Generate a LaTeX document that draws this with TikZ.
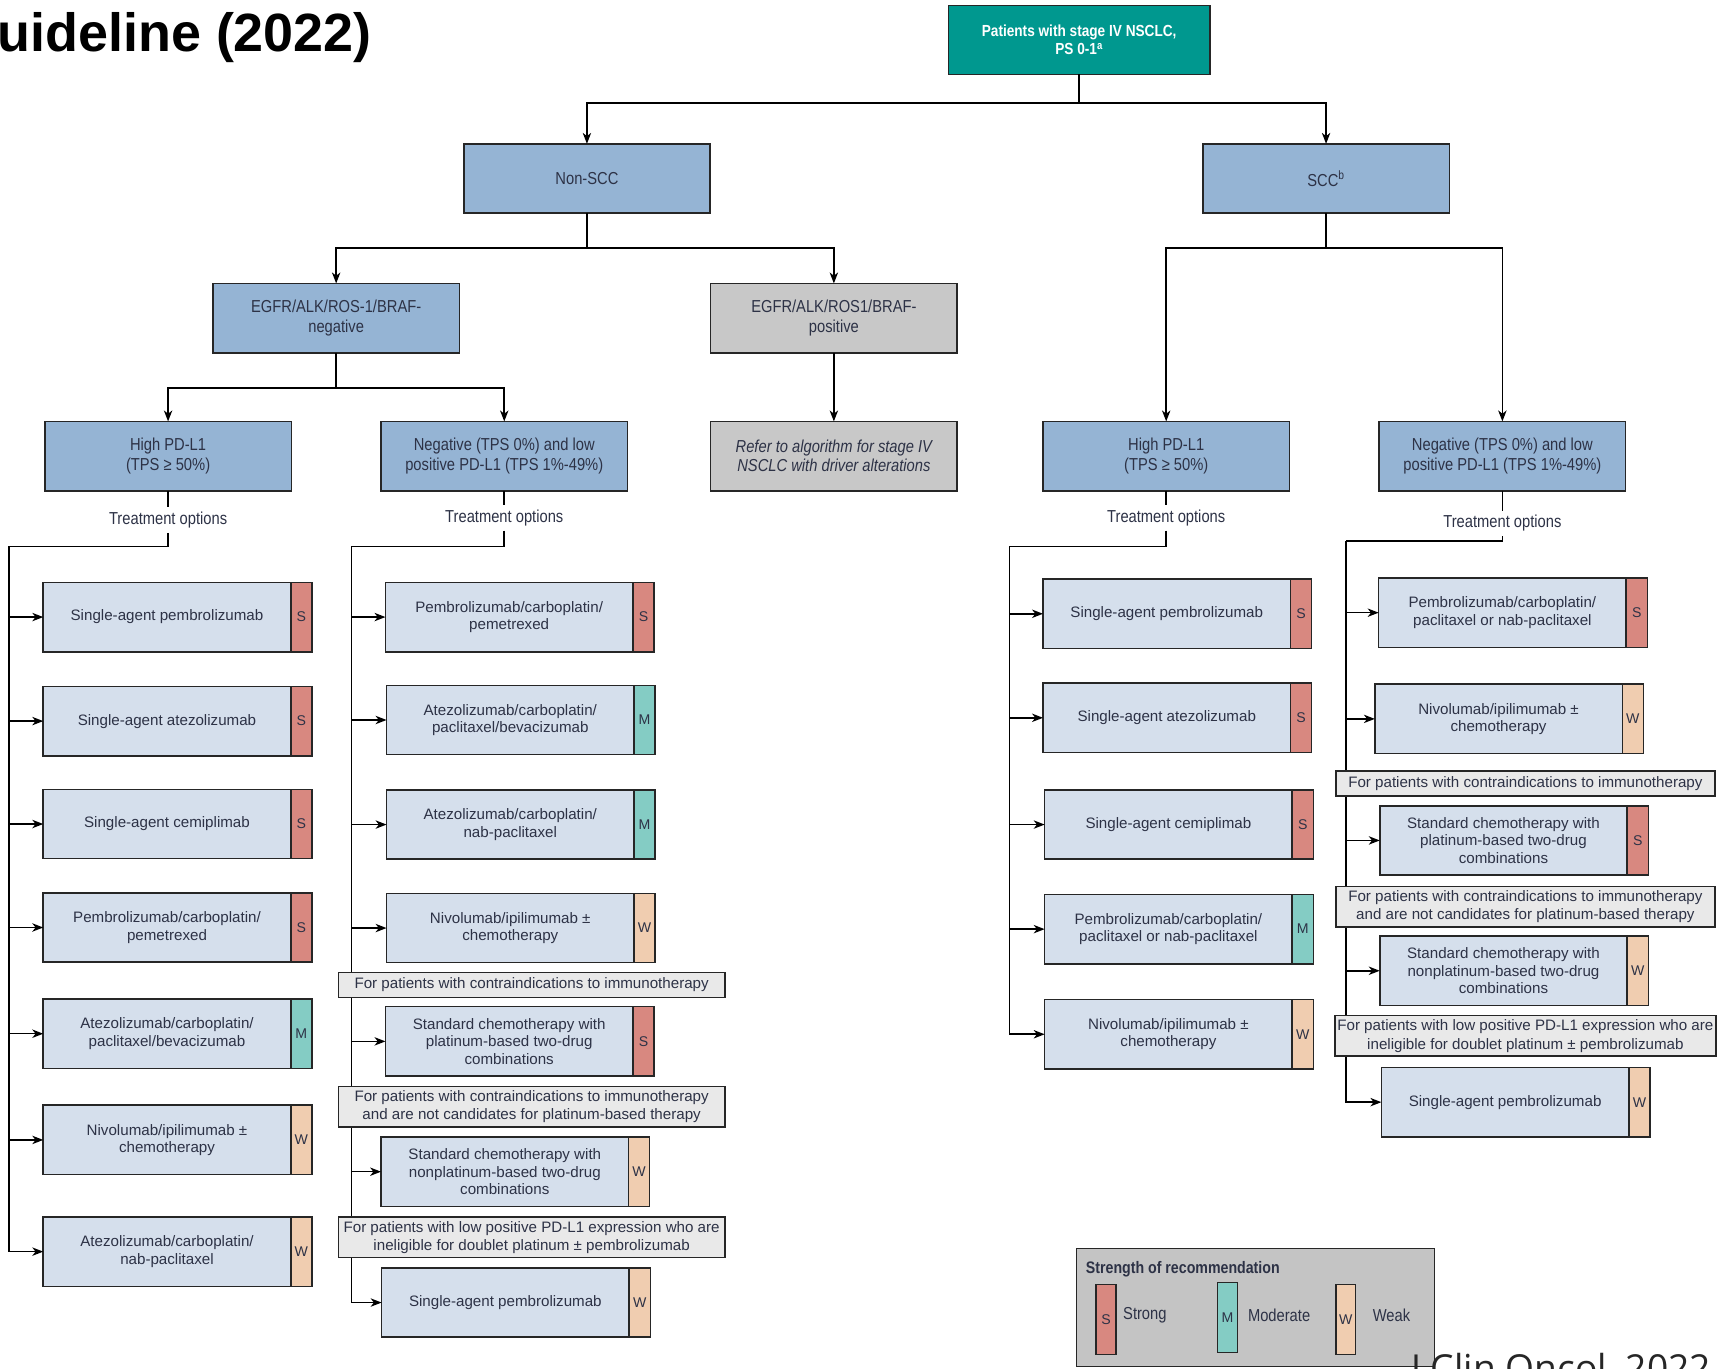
\documentclass[tikz,border=0pt]{standalone}
\usepackage{fontspec}
\setmainfont{Liberation Sans}
\newfontfamily\condfont[FakeStretch=0.85]{Liberation Sans}
\newfontfamily\citefont{Open Sans}
\usetikzlibrary{arrows.meta}

\definecolor{tealbox}{RGB}{0,152,143}
\definecolor{catblue}{RGB}{149,180,212}
\definecolor{catgray}{RGB}{200,200,200}
\definecolor{optblue}{RGB}{213,223,236}
\definecolor{sred}{RGB}{216,136,128}
\definecolor{mteal}{RGB}{132,204,196}
\definecolor{wpeach}{RGB}{240,205,176}
\definecolor{notegray}{RGB}{233,233,233}
\definecolor{leggray}{RGB}{196,196,196}
\definecolor{txtcol}{RGB}{45,50,70}

\begin{document}
\begin{tikzpicture}[x=0.03cm, y=-0.03cm, line width=1.2pt,
    >={Stealth[length=8.5pt, width=6.5pt, inset=2.5pt]},
    cat/.style={draw=black!85, fill=catblue, minimum width=6.75cm, minimum height=1.9cm,
      align=center, text=txtcol, outer sep=0pt, font=\condfont\fontsize{13.5}{15}\selectfont},
    opt/.style={draw=black!85, fill=optblue, minimum width=6.78cm, minimum height=1.9cm,
      align=center, text=txtcol, inner sep=2pt, outer sep=0pt, font=\fontsize{11.8}{13.5}\selectfont},
    badge/.style={draw=black!85, line width=1.2pt, minimum width=0.58cm, minimum height=1.9cm,
      inner sep=0pt, outer sep=0pt, text=txtcol, font=\fontsize{11}{12}\selectfont},
    rateS/.style={label={[badge, fill=sred]east:S}},
    rateM/.style={label={[badge, fill=mteal]east:M}},
    rateW/.style={label={[badge, fill=wpeach]east:W}},
    note/.style={draw=black!85, fill=notegray, minimum width=10.59cm, minimum height=0.69cm,
      align=center, text=txtcol, inner sep=2pt, outer sep=0pt, font=\fontsize{11.8}{14.5}\selectfont},
    trt/.style={text=txtcol, inner sep=3pt, font=\condfont\fontsize{13.5}{15}\selectfont},
    legtxt/.style={anchor=west, inner sep=0pt, text=txtcol, font=\condfont\fontsize{13.5}{15}\selectfont}]
    \useasboundingbox (0,0) rectangle (1568,1250);
    \clip (0,0) rectangle (1568,1250);
    \fill[white] (0,0) rectangle (1568,1250);

    % Title
    \node (title) [anchor=base west, inner sep=0pt, font=\bfseries\fontsize{42}{44}\selectfont] at (-3,47) {uideline (2022)};

    % Nodes
    \node (pat) [cat, fill=tealbox, text=white, minimum width=7.17cm, minimum height=1.89cm,
      font=\condfont\bfseries\fontsize{12.5}{14}\selectfont] at (985.5,36.5) {Patients with stage IV NSCLC,\\PS 0-1\textsuperscript{a}};
    \node (nonscc) [cat] at (536,163) {Non-SCC};
    \node (scc) [cat] at (1211,163) {SCC\textsuperscript{b}};
    \node (egfrneg) [cat] at (307,290.5) {EGFR/ALK/ROS-1/BRAF-\\negative};
    \node (egfrpos) [cat, fill=catgray] at (761.5,290.5) {EGFR/ALK/ROS1/BRAF-\\positive};
    \node (hpd1) [cat] at (153.5,416.5) {High PD-L1\\(TPS ≥ 50\%)};
    \node (neg1) [cat] at (460.5,416.5) {Negative (TPS 0\%) and low\\positive PD-L1 (TPS 1\%-49\%)};
    \node (refer) [cat, fill=catgray, font=\condfont\itshape\fontsize{13.5}{15}\selectfont] at (761.5,416.5) {Refer to algorithm for stage IV\\NSCLC with driver alterations};
    \node (hpd2) [cat] at (1065,416.5) {High PD-L1\\(TPS ≥ 50\%)};
    \node (neg2) [cat] at (1372,416.5) {Negative (TPS 0\%) and low\\positive PD-L1 (TPS 1\%-49\%)};

    \node (ta) [trt] at (153.5,475) {Treatment options};
    \node (tb) [trt] at (460.5,473) {Treatment options};
    \node (tc) [trt] at (1065,473) {Treatment options};
    \node (td) [trt] at (1372,478) {Treatment options};

    % Options, non-SCC high PD-L1
    \node (a1) [opt, rateS] at (152.5,563.5) {Single-agent pembrolizumab};
    \node (a2) [opt, rateS] at (152.5,658.5) {Single-agent atezolizumab};
    \node (a3) [opt, rateS] at (152.5,752.5) {Single-agent cemiplimab};
    \node (a4) [opt, rateS] at (152.5,847) {Pembrolizumab/carboplatin/\\pemetrexed};
    \node (a5) [opt, rateM] at (152.5,944) {Atezolizumab/carboplatin/\\paclitaxel/bevacizumab};
    \node (a6) [opt, rateW] at (152.5,1041) {Nivolumab/ipilimumab ±\\chemotherapy};
    \node (a7) [opt, rateW] at (152.5,1143) {Atezolizumab/carboplatin/\\nab-paclitaxel};

    % Options, non-SCC negative and low PD-L1
    \node (b1) [opt, rateS] at (465,563.5) {Pembrolizumab/carboplatin/\\pemetrexed};
    \node (b2) [opt, rateM] at (466,657.5) {Atezolizumab/carboplatin/\\paclitaxel/bevacizumab};
    \node (b3) [opt, rateM] at (466,753) {Atezolizumab/carboplatin/\\nab-paclitaxel};
    \node (b4) [opt, rateW] at (466,847.5) {Nivolumab/ipilimumab ±\\chemotherapy};
    \node (b5) [opt, rateS] at (465,951) {Standard chemotherapy with\\platinum-based two-drug\\combinations};
    \node (b6) [opt, rateW] at (461,1070) {Standard chemotherapy with\\nonplatinum-based two-drug\\combinations};
    \node (b7) [opt, rateW] at (461.5,1189.5) {Single-agent pembrolizumab};

    % Options, SCC high PD-L1
    \node (c1) [opt, rateS] at (1065.5,560.5) {Single-agent pembrolizumab};
    \node (c2) [opt, rateS] at (1065.5,655.5) {Single-agent atezolizumab};
    \node (c3) [opt, rateS] at (1067,753) {Single-agent cemiplimab};
    \node (c4) [opt, rateM] at (1067,848.5) {Pembrolizumab/carboplatin/\\paclitaxel or nab-paclitaxel};
    \node (c5) [opt, rateW] at (1067,944.5) {Nivolumab/ipilimumab ±\\chemotherapy};

    % Options, SCC negative and low PD-L1
    \node (d1) [opt, rateS] at (1372,559.5) {Pembrolizumab/carboplatin/\\paclitaxel or nab-paclitaxel};
    \node (d2) [opt, rateW] at (1368.5,656.5) {Nivolumab/ipilimumab ±\\chemotherapy};
    \node (d3) [opt, rateS] at (1373,767.5) {Standard chemotherapy with\\platinum-based two-drug\\combinations};
    \node (d4) [opt, rateW] at (1373,886.5) {Standard chemotherapy with\\nonplatinum-based two-drug\\combinations};
    \node (d5) [opt, rateW] at (1374.5,1006.5) {Single-agent pembrolizumab};

    % Arrows
    \draw[->] (pat.south) -- ++(0,26) -| (nonscc.north);
    \draw[->] (pat.south) -- ++(0,26) -| (scc.north);
    \draw[->] (nonscc.south) -- ++(0,32) -| (egfrneg.north);
    \draw[->] (nonscc.south) -- ++(0,32) -| (egfrpos.north);
    \draw[->] (scc.south) -- ++(0,32) -| (hpd2.north);
    \draw[->] (scc.south) -- ++(0,32) -| (neg2.north);
    \draw[->] (egfrneg.south) -- ++(0,32) -| (hpd1.north);
    \draw[->] (egfrneg.south) -- ++(0,32) -| (neg1.north);
    \draw[->] (egfrpos) -- (refer);

    \coordinate (sa) at (8,499);
    \coordinate (sb) at (321,499);
    \coordinate (sc) at (922,499);
    \coordinate (sd) at (1229,494);

    \draw (hpd1.south) -- (ta.north);
    \draw (ta.south) |- (sa);
    \draw[->] (sa) |- (a7.west);
    \draw[->] (sa |- a1.west) -- (a1.west);
    \draw[->] (sa |- a2.west) -- (a2.west);
    \draw[->] (sa |- a3.west) -- (a3.west);
    \draw[->] (sa |- a4.west) -- (a4.west);
    \draw[->] (sa |- a5.west) -- (a5.west);
    \draw[->] (sa |- a6.west) -- (a6.west);

    \draw (neg1.south) -- (tb.north);
    \draw (tb.south) |- (sb);
    \draw[->] (sb) |- (b7.west);
    \draw[->] (sb |- b1.west) -- (b1.west);
    \draw[->] (sb |- b2.west) -- (b2.west);
    \draw[->] (sb |- b3.west) -- (b3.west);
    \draw[->] (sb |- b4.west) -- (b4.west);
    \draw[->] (sb |- b5.west) -- (b5.west);
    \draw[->] (sb |- b6.west) -- (b6.west);

    \draw (hpd2.south) -- (tc.north);
    \draw (tc.south) |- (sc);
    \draw[->] (sc) |- (c5.west);
    \draw[->] (sc |- c1.west) -- (c1.west);
    \draw[->] (sc |- c2.west) -- (c2.west);
    \draw[->] (sc |- c3.west) -- (c3.west);
    \draw[->] (sc |- c4.west) -- (c4.west);

    \draw (neg2.south) -- (td.north);
    \draw (td.south) |- (sd);
    \draw[->] (sd) |- (d5.west);
    \draw[->] (sd |- d1.west) -- (d1.west);
    \draw[->] (sd |- d2.west) -- (d2.west);
    \draw[->] (sd |- d3.west) -- (d3.west);
    \draw[->] (sd |- d4.west) -- (d4.west);

    % Conditions
    \node (na1) [note] at (485.5,899.5) {For patients with contraindications to immunotherapy};
    \node (na2) [note, minimum height=1.11cm] at (485.5,1010.5) {For patients with contraindications to immunotherapy\\and are not candidates for platinum-based therapy};
    \node (na3) [note, minimum height=1.11cm] at (485.5,1130) {For patients with low positive PD-L1 expression who are\\ineligible for doublet platinum ± pembrolizumab};
    \node (nb1) [note, minimum width=10.38cm] at (1393,715.5) {For patients with contraindications to immunotherapy};
    \node (nb2) [note, minimum width=10.38cm, minimum height=1.11cm] at (1393,828) {For patients with contraindications to immunotherapy\\and are not candidates for platinum-based therapy};
    \node (nb3) [note, minimum width=10.38cm, minimum height=1.11cm] at (1393,946) {For patients with low positive PD-L1 expression who are\\ineligible for doublet platinum ± pembrolizumab};

    % Legend
    \node (leg) [draw=black!85, fill=leggray, minimum width=9.81cm, minimum height=3.24cm, outer sep=0pt] at (1146.5,1194) {};
    \node (legt) [legtxt, font=\condfont\bfseries\fontsize{13}{14}\selectfont] at (991,1159) {Strength of recommendation};
    \node (kS) [badge, fill=sred, minimum width=0.54cm, minimum height=1.92cm] at (1010,1205) {S};
    \node (kSt) [legtxt] at (1025,1201) {Strong};
    \node (kM) [badge, fill=mteal, minimum width=0.54cm, minimum height=1.92cm] at (1121,1203) {M};
    \node (kMt) [legtxt] at (1139,1201) {Moderate};
    \node (kW) [badge, fill=wpeach, minimum width=0.54cm, minimum height=1.92cm] at (1229,1205) {W};
    \node (kWt) [legtxt] at (1253,1201) {Weak};

    \node (cite) [anchor=base west, inner sep=0pt, text=black!85, font=\citefont\fontsize{29}{30}\selectfont] at (1288,1262) {J Clin Oncol, 2022};
\end{tikzpicture}
\end{document}
